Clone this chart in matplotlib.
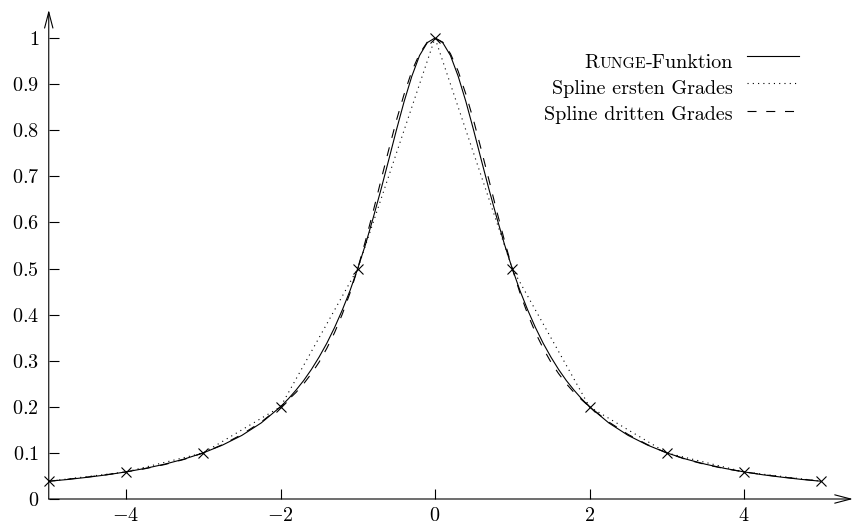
"""plot.py

Runge function 1/(1+x^2) with a linear and a cubic spline through the
integer nodes -5..5. Values read off the reference picture.
"""
import numpy as np
import matplotlib
matplotlib.use("Agg")
import matplotlib.pyplot as plt
from matplotlib.lines import Line2D
from matplotlib.offsetbox import TextArea, HPacker, AnnotationBbox

# -- DATA (right half, x >= 0; the curves are symmetric)
x_half = [0.0, 0.1, 0.2, 0.3, 0.4, 0.5, 0.6, 0.7, 0.8, 0.9, 1.0,
          1.1, 1.2, 1.3, 1.4, 1.5, 1.6, 1.7, 1.8, 1.9, 2.0,
          2.25, 2.5, 2.75, 3.0, 3.25, 3.5, 3.75, 4.0, 4.25, 4.5, 4.75, 5.0]
runge_half = [1.000, 0.990, 0.962, 0.917, 0.862, 0.800, 0.735, 0.671, 0.610, 0.552, 0.500,
              0.452, 0.410, 0.372, 0.338, 0.308, 0.281, 0.257, 0.236, 0.217, 0.200,
              0.165, 0.138, 0.117, 0.100, 0.0865, 0.0755, 0.0664, 0.0588, 0.0524, 0.0471, 0.0424, 0.0385]
cubic_half = [1.000, 0.991, 0.966, 0.928, 0.878, 0.821, 0.757, 0.691, 0.624, 0.560, 0.500,
              0.447, 0.401, 0.361, 0.327, 0.297, 0.272, 0.250, 0.231, 0.215, 0.200,
              0.167, 0.140, 0.118, 0.100, 0.0858, 0.0747, 0.0659, 0.0588, 0.0528, 0.0476, 0.0430, 0.0385]
nodes_x = [-5, -4, -3, -2, -1, 0, 1, 2, 3, 4, 5]
nodes_y = [0.0385, 0.0588, 0.1, 0.2, 0.5, 1.0, 0.5, 0.2, 0.1, 0.0588, 0.0385]

xticks = [-4, -2, 0, 2, 4]
yticks = [0, 0.1, 0.2, 0.3, 0.4, 0.5, 0.6, 0.7, 0.8, 0.9, 1]
legend_labels = ["Spline ersten Grades", "Spline dritten Grades"]


def mirror(v, sign=1):
    v = np.asarray(v, dtype=float)
    return np.concatenate([sign * v[:0:-1], v])


plt.rcParams["mathtext.fontset"] = "cm"
plt.rcParams["font.family"] = ["cmr10", "DejaVu Serif"]
plt.rcParams["axes.formatter.use_mathtext"] = True
plt.rcParams["lines.scale_dashes"] = False

FS = 14.5
W, H = 857, 526

fig = plt.figure(figsize=(W / 100, H / 100), dpi=100)
ax = fig.add_axes([48.75 / W, 27 / H, 772.5 / W, 461 / H])

xs = mirror(x_half, -1)
ls_dot = (0, (0.8, 3.0))
ls_dash = (0, (6.5, 7.0))

ax.plot(xs, mirror(runge_half), color="black", lw=0.8)
ax.plot(nodes_x, nodes_y, color="black", lw=0.8, ls=ls_dot)
ax.plot(xs, mirror(cubic_half), color="black", lw=0.8, ls=ls_dash)
ax.plot(nodes_x, nodes_y, ls="none", marker="x", ms=7.5, mew=0.8,
        color="black", clip_on=False, zorder=5)

ax.set_xlim(-5, 5)
ax.set_ylim(0, 1)
for s in ax.spines.values():
    s.set_visible(False)

ax.set_xticks(xticks)
ax.set_xticklabels(["$%d$" % t for t in xticks])
ax.set_yticks(yticks)
ax.set_yticklabels(["$%g$" % t for t in yticks])
ax.tick_params(direction="in", length=7.5, width=0.8, labelsize=FS)
ax.tick_params(axis="y", pad=7)
ax.tick_params(axis="x", pad=5.5)

# -- AXES WITH ARROWS
arrow = dict(arrowstyle="->,head_length=1.15,head_width=0.3", lw=0.8,
             color="black", shrinkA=0, shrinkB=0, mutation_scale=10)
ax.annotate("", xy=(5.41, 0), xytext=(-5, 0), arrowprops=arrow,
            annotation_clip=False)
ax.annotate("", xy=(-5, 1.061), xytext=(-5, 0), arrowprops=arrow,
            annotation_clip=False)

# -- LEGEND (drawn by hand, RUNGE in small caps)
def row(children, y_px):
    box = HPacker(children=children, align="baseline", pad=0, sep=0)
    ab = AnnotationBbox(box, (733 / W, 1 - y_px / H), xycoords="figure fraction",
                        box_alignment=(1, 0.5), frameon=False, pad=0)
    fig.add_artist(ab)


tp = dict(size=FS, family=["cmr10", "DejaVu Serif"])
tp_sc = dict(size=FS * 0.78, family=["cmr10", "DejaVu Serif"])
row([TextArea("R", textprops=tp), TextArea("UNGE", textprops=tp_sc),
     TextArea("-Funktion", textprops=tp)], 63)
row([TextArea(legend_labels[0], textprops=tp)], 89)
row([TextArea(legend_labels[1], textprops=tp)], 115)

for y_px, ls in [(56, "-"), (83, ls_dot), (111, ls_dash)]:
    fig.add_artist(Line2D([747 / W, 799 / W], [1 - y_px / H] * 2,
                          transform=fig.transFigure, color="black", lw=0.8, ls=ls))

plt.savefig("out.png", dpi=100)
